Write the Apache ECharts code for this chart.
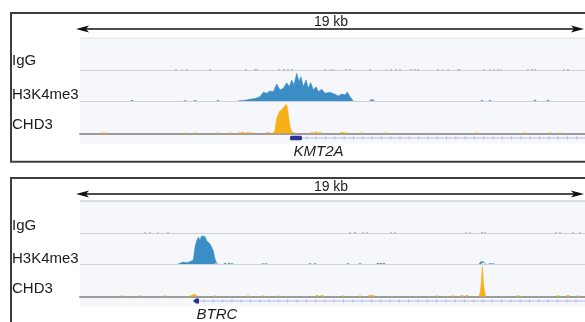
<!DOCTYPE html>
<html><head><meta charset="utf-8">
<script src="https://cdn.jsdelivr.net/npm/echarts@6/dist/echarts.min.js"></script>
<style>html,body{margin:0;padding:0;background:#fff}#c{width:585px;height:322px}</style>
</head><body><div id="c"></div>
<script>
// ---- data ----
const windowLabel = '19 kb';
const trackNames = ['IgG', 'H3K4me3', 'CHD3'];
const geneNames = ['KMT2A', 'BTRC'];
const binCount = 505; // genomic bins across the 19 kb window

// Panel 1: KMT2A locus  ([bin, signal])
const kmt2aIgGBumps = [[96,1],[102,0.8],[107,1],[130,1],[166,1],[175,1.3],[177,1],[199,1],[204,1.2],[208,1],[212,1.3],[245,1],[250,0.8],[253,1],[266,1],[270,1.2],[290,1],[306,0.8],[311,1],[316,1],[320,1],[331,1.2],[335,1],[338,1],[358,1],[363,0.8],[368,1],[378,1],[380,1],[404,1],[410,0.8],[414,1],[418,1],[421,0.8],[448,1],[452,1],[455,1],[484,1],[488,1.2]];
const kmt2aH3Peak = [[158,0],[165,0.8],[170,1.7],[175,2.5],[180,4.3],[183.3,8.7],[186.7,7.7],[190,10],[193.3,9.3],[196.7,17],[200,11],[203.3,12.7],[206.7,18.3],[209.3,14.3],[211.7,21],[214,16],[216.7,27.7],[219,19.3],[221,24.3],[223.3,14.3],[226,21],[228.3,12.7],[230.7,18.3],[233.3,11],[236,14.3],[238.3,9.3],[241.7,11.7],[245,7.7],[250,8.7],[255,6.7],[258.3,5],[261.7,7],[265,6],[267.3,9],[270,4.3],[273.3,0]];
const kmt2aH3Bumps = [[52,1],[105,0.8],[115,1],[138,1],[291,1.5],[293,1.5],[402,1],[410,1],[455,1.2],[468,1.2]];
const kmt2aCHD3Peak = [[193,0],[195,3.3],[196.7,15],[199.3,21.7],[201.7,24],[204,26.7],[206,29.3],[207.3,26.7],[208.7,16.7],[210,6.7],[211.7,1.7],[214,0.8],[216,0]];
const kmt2aCHD3Bumps = [[23,1],[27,1],[105,0.8],[115,1],[138,1],[150,1],[160,1.3],[163,1.5],[168,1.5],[172,1.2],[188,1.5],[232,1.5],[236,2],[240,1.5],[262,1.5],[266,1.2],[282,1],[305,1],[352,0.8],[397,1],[445,1],[470,1.2],[480,1]];
const kmt2aGene = [210, 505, 210, 222, 1]; // start, end, exonStart, exonEnd, strand

// Panel 2: BTRC locus
const btrcIgGBumps = [[65,1],[70,1],[78,0.8],[88,1],[270,1],[275,1.2],[283,1],[287,1],[311,1],[315,1],[386,1],[390,0.8],[402,1.5],[405,1],[476,1],[480,1],[493,1],[500,1]];
const btrcH3Peak = [[98,0],[100,1],[103.3,2],[106.7,1.3],[110,2.3],[113.3,4],[115,16.7],[116.7,23.3],[118.3,26.7],[120,24],[121.7,28],[123.3,26],[125,27.3],[126.7,23.3],[128.3,25],[130,20],[131.7,20.7],[133.3,13.3],[135,5],[136.7,0.7],[138.3,0]];
const btrcH3Spike = [[399,0],[401,2.5],[402.5,3.2],[404,2],[405.5,0]];
const btrcH3Bumps = [[145,1],[149,1.2],[152,0.8],[183,0.7],[186,0.7],[230,0.8],[235,0.8],[268,0.8],[280,0.8],[298,1],[301,1],[304,1],[410,0.8],[413,0.8]];
const btrcCHD3Spike = [[399,0],[400,3],[401,11],[401.8,22],[402.3,30],[402.9,22],[403.7,11],[404.8,3],[406,0]];
const btrcCHD3Small = [[109,0],[111,1.8],[114,2.2],[117,1.5],[118.5,0]];
const btrcCHD3Bumps = [[42,1],[60,1],[85,1],[135,1],[168,1],[183,1],[198,0.8],[237,1.5],[242,1.5],[263,1],[280,1],[290,1.5],[293,1.5],[357,1],[373,1],[382,1.5],[387,1.5],[438,1.2],[478,1.2],[488,1.5],[498,1]];
const btrcGene = [113, 505, 113, 119, -1];

// ---- layout / style ----
const FONT = '"Liberation Sans", Arial, sans-serif';
const trackColors = ['#a3a3a3', '#3a8dc5', '#f8b019'];
const bumpWidths = [2, 2.5, 3];
const panels = [
  { gene: geneNames[0], geneData: kmt2aGene, trackTop: 38, boxTop: 13, arrowY: 29, labelDy: 0,
    tracks: [ {peaks: [], bumps: kmt2aIgGBumps}, {peaks: [kmt2aH3Peak], bumps: kmt2aH3Bumps}, {peaks: [kmt2aCHD3Peak], bumps: kmt2aCHD3Bumps} ],
    topLine: '#dfe2e8' },
  { gene: geneNames[1], geneData: btrcGene, trackTop: 201, boxTop: 178, arrowY: 194, labelDy: 164.3,
    tracks: [ {peaks: [], bumps: btrcIgGBumps}, {peaks: [btrcH3Peak, btrcH3Spike], bumps: btrcH3Bumps}, {peaks: [btrcCHD3Spike, btrcCHD3Small], bumps: btrcCHD3Bumps} ],
    topLine: '#b9bdc5' }
];
const trackHeights = [32.3, 30.7, 32.5];
const geneHeight = 10;
const labelY = [61.3, 94.7, 125];

const grid = [], xAxis = [], yAxis = [], series = [], graphic = [];
panels.forEach((p, pi) => {
  let top = p.trackTop;
  p.tracks.forEach((t, ti) => {
    const gi = grid.length;
    grid.push({ left: 80, right: 0, top: top, height: trackHeights[ti], show: true, backgroundColor: '#f5f7fb', borderWidth: 0 });
    xAxis.push({ type: 'value', gridIndex: gi, min: 0, max: binCount, axisLabel: {show:false}, axisTick: {show:false}, splitLine: {show:false},
      axisLine: { show: true, lineStyle: ti === 2 ? { color: '#9c9c9c', width: 2 } : { color: '#cdd1d9', width: 1 } } });
    yAxis.push({ type: 'value', gridIndex: gi, min: 0, max: trackHeights[ti], show: false });
    t.peaks.forEach(pk => series.push({ type: 'line', xAxisIndex: gi, yAxisIndex: gi, data: pk, showSymbol: false, symbol: 'none',
      lineStyle: { width: 0.6, color: trackColors[ti] }, areaStyle: { color: trackColors[ti], opacity: 1 }, silent: true, z: 3 }));
    series.push({ type: 'bar', xAxisIndex: gi, yAxisIndex: gi, data: t.bumps, barWidth: bumpWidths[ti], itemStyle: { color: trackColors[ti], opacity: ti === 0 ? 0.8 : 0.85 }, silent: true, z: 3 });
    top += trackHeights[ti];
  });
  const gi = grid.length;
  grid.push({ left: 80, right: 0, top: top, height: geneHeight, show: true, backgroundColor: '#f5f7fb', borderWidth: 0 });
  xAxis.push({ type: 'value', gridIndex: gi, min: 0, max: binCount, show: false });
  yAxis.push({ type: 'value', gridIndex: gi, min: 0, max: 1, show: false });
  const gname = p.gene;
  series.push({ type: 'custom', xAxisIndex: gi, yAxisIndex: gi, data: [p.geneData], clip: false, silent: true, z: 4,
    renderItem: (params, api) => {
      const s = api.coord([api.value(0), 0.55]);
      const e = api.coord([api.value(1), 0.55]);
      const es = api.coord([api.value(2), 0.55]);
      const ee = api.coord([api.value(3), 0.55]);
      const strand = api.value(4);
      const y = s[1];
      const ch = [{ type: 'line', shape: { x1: s[0], y1: y, x2: e[0], y2: y }, style: { stroke: '#b3b9e8', lineWidth: 1 } }];
      for (let x = ee[0] + 5; x < e[0]; x += 9.3) {
        ch.push({ type: 'line', shape: { x1: x, y1: y - 1.5, x2: x, y2: y + 1.5 }, style: { stroke: '#a2a9e0', lineWidth: 0.8 } });
      }
      if (strand > 0) {
        ch.push({ type: 'rect', shape: { x: es[0], y: y - 2.2, width: ee[0] - es[0], height: 4.4, r: 1.5 }, style: { fill: '#28338f' } });
      } else {
        ch.push({ type: 'polygon', shape: { points: [[es[0], y], [es[0] + 3, y - 2.4], [ee[0], y - 2.4], [ee[0], y + 2.4], [es[0] + 3, y + 2.4]] }, style: { fill: '#28338f' } });
      }
      ch.push({ type: 'text', style: { text: gname, x: es[0] + 3.5, y: y + 13.6, font: 'italic 15px ' + FONT, fill: '#1c1c1c', verticalAlign: 'middle', align: 'left' } });
      return { type: 'group', children: ch };
    } });

  // decorations
  graphic.push({ type: 'rect', shape: { x: 11, y: p.boxTop, width: 620, height: pi === 0 ? 148.7 : 200 }, style: { fill: 'none', stroke: '#3d3d3d', lineWidth: 2 }, z: 10 });
  graphic.push({ type: 'line', shape: { x1: 80, y1: p.trackTop, x2: 585, y2: p.trackTop }, style: { stroke: p.topLine, lineWidth: 1 }, z: 10 });
  graphic.push({ type: 'line', shape: { x1: 84, y1: p.arrowY, x2: 578, y2: p.arrowY }, style: { stroke: '#111', lineWidth: 1.3 }, z: 10 });
  graphic.push({ type: 'polygon', shape: { points: [[76, p.arrowY], [89, p.arrowY - 3.6], [86, p.arrowY], [89, p.arrowY + 3.6]] }, style: { fill: '#111' }, z: 10 });
  graphic.push({ type: 'polygon', shape: { points: [[584, p.arrowY], [571, p.arrowY - 3.6], [574, p.arrowY], [571, p.arrowY + 3.6]] }, style: { fill: '#111' }, z: 10 });
  graphic.push({ type: 'text', style: { text: windowLabel, x: 331, y: p.arrowY - 7.3, font: '14px ' + FONT, fill: '#1c1c1c', align: 'center', verticalAlign: 'middle' }, z: 10 });
  trackNames.forEach((n, i) => graphic.push({ type: 'text', style: { text: n, x: 12, y: labelY[i] + p.labelDy, font: '15px ' + FONT, fill: '#1c1c1c', align: 'left', verticalAlign: 'middle' }, z: 10 }));
});

const chart = echarts.init(document.getElementById('c'), null, { renderer: 'canvas' });
chart.setOption({ animation: false, backgroundColor: '#fff', grid, xAxis, yAxis, series, graphic });
</script></body></html>
